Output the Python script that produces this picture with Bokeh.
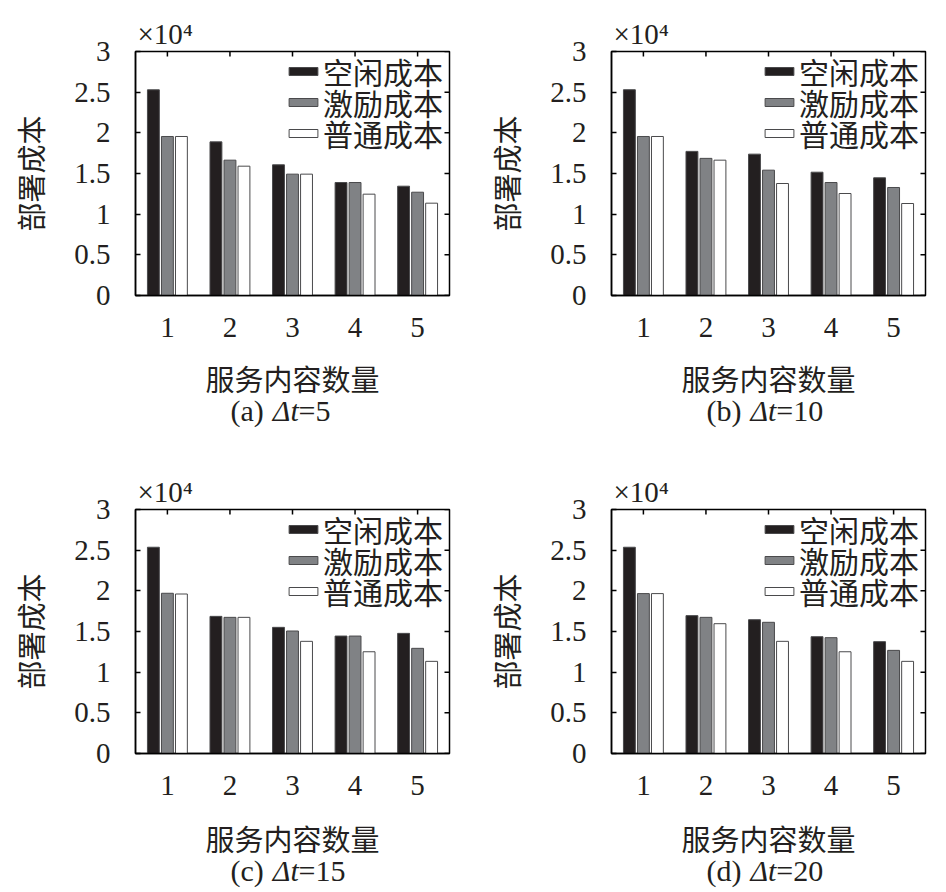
import math
from bokeh.plotting import figure
from bokeh.models import (ColumnDataSource, Range1d, FixedTicker,
                          Legend, LegendItem)
from bokeh.layouts import gridplot
from bokeh.transform import dodge
from bokeh.core.properties import value
from bokeh.embed import file_html
from bokeh.resources import INLINE

# ---------------- data ----------------
content_counts = [1, 2, 3, 4, 5]
series_names = ["空闲成本", "激励成本", "普通成本"]
panel_tags = ["(a)", "(b)", "(c)", "(d)"]
delta_t_values = ["5", "10", "15", "20"]
y_ticks = [0, 5000, 10000, 15000, 20000, 25000, 30000]
y_tick_labels = ["0", "0.5", "1", "1.5", "2", "2.5", "3"]
x_label_text = "服务内容数量"
y_label_text = "部署成本"
scale_text = "×10⁴"

idle_cost_5 = [25290, 18890, 16070, 13890, 13440]
incentive_cost_5 = [19550, 16640, 14920, 13890, 12700]
normal_cost_5 = [19550, 15900, 14920, 12460, 11350]

idle_cost_10 = [25300, 17720, 17380, 15160, 14470]
incentive_cost_10 = [19550, 16860, 15410, 13890, 13280]
normal_cost_10 = [19550, 16640, 13770, 12540, 11310]

idle_cost_15 = [25360, 16860, 15510, 14440, 14770]
incentive_cost_15 = [19700, 16740, 15060, 14440, 12930]
normal_cost_15 = [19610, 16740, 13790, 12510, 11330]

idle_cost_20 = [25360, 16950, 16450, 14360, 13750]
incentive_cost_20 = [19660, 16740, 16130, 14240, 12680]
normal_cost_20 = [19660, 15960, 13790, 12510, 11330]

# ---------------- style ----------------
SERIF = "Liberation Serif"
CJK = "Noto Sans CJK SC"
MIXED = "'Liberation Serif', 'Noto Sans CJK SC'"
TXT = "#231f20"
bar_fills = ["#231f20", "#808285", "#ffffff"]
bar_line = "#4a4a4c"
offsets = [-0.224, 0.0, 0.224]
BAR_W = 0.19
FRAME_W, FRAME_H = 314, 244
LEFT_B, TOP_B, BOTTOM_B = 135, 51, 58
RIGHT_A, RIGHT_B = 27, 15
LEGEND_X = 150                 # legend box left, px from frame left
LEGEND_ROW_Y = [202, 171, 140]  # legend box bottom, px from frame bottom

CW = {"(": 0.333, ")": 0.333, "a": 0.444, "b": 0.5, "c": 0.444, "d": 0.5,
      "=": 0.564, "0": 0.5, "1": 0.5, "2": 0.5, "5": 0.5}


def text_w(s, size):
    return sum(CW.get(ch, 0.5) for ch in s) * size


def make_panel(idle, incentive, normal, right_border):
    p = figure(frame_width=FRAME_W, frame_height=FRAME_H,
               x_range=Range1d(0.49, 5.51), y_range=Range1d(0, 30000),
               output_backend="svg", toolbar_location=None,
               min_border_left=LEFT_B, min_border_top=TOP_B,
               min_border_right=right_border, min_border_bottom=BOTTOM_B,
               background_fill_color="white", border_fill_color="white",
               outline_line_color="black", outline_line_width=1.5)
    p.xgrid.visible = False
    p.ygrid.visible = False

    src = ColumnDataSource(dict(x=content_counts, idle=idle,
                                incentive=incentive, normal=normal))
    renderers = []
    for col, off, fill in zip(["idle", "incentive", "normal"], offsets, bar_fills):
        r = p.vbar(x=dodge("x", off, range=p.x_range), top=col, bottom=0,
                   width=BAR_W, source=src, fill_color=fill,
                   line_color=bar_line, line_width=1)
        renderers.append(r)

    # mirrored inside ticks on right and top edges (clipped half-dashes)
    p.scatter(x=[p.x_range.end] * len(y_ticks), y=y_ticks, marker="dash",
              size=10, line_color="black", line_width=1.5)
    p.scatter(x=content_counts, y=[p.y_range.end] * len(content_counts),
              marker="dash", angle=math.pi / 2, size=10,
              line_color="black", line_width=1.5)

    # left y axis
    ya = p.yaxis[0]
    ya.ticker = FixedTicker(ticks=y_ticks)
    ya.major_label_overrides = dict(zip(y_ticks, y_tick_labels))
    ya.major_tick_in = 5
    ya.major_tick_out = 0
    ya.minor_tick_line_color = None
    ya.axis_line_width = 1.5
    ya.major_tick_line_width = 1.5
    ya.major_label_standoff = 25
    ya.major_label_text_font = SERIF
    ya.major_label_text_font_size = "29px"
    ya.major_label_text_color = TXT
    ya.axis_label = y_label_text
    ya.axis_label_text_font = CJK
    ya.axis_label_text_font_style = "normal"
    ya.axis_label_text_font_size = "29px"
    ya.axis_label_text_color = TXT
    ya.axis_label_standoff = 20

    # bottom x axis (its label is drawn in the caption strip below)
    xa = p.xaxis[0]
    xa.ticker = FixedTicker(ticks=content_counts)
    xa.major_tick_in = 0
    xa.major_tick_out = 0
    xa.minor_tick_line_color = None
    xa.axis_line_width = 1.5
    xa.major_label_standoff = 22
    xa.major_label_text_font = SERIF
    xa.major_label_text_font_size = "29px"
    xa.major_label_text_color = TXT

    # scale factor as title
    p.title.text = scale_text
    p.title.align = "left"
    p.title.offset = 2
    p.title.standoff = 3
    p.title.text_font = SERIF
    p.title.text_font_style = "normal"
    p.title.text_font_size = "29px"
    p.title.text_color = TXT

    # legend: one entry per row, stacked at fixed row positions
    for name, r, ry in zip(series_names, renderers, LEGEND_ROW_Y):
        lg = Legend(items=[LegendItem(label=name, renderers=[r])],
                    location=(LEGEND_X, ry), margin=0, padding=0, spacing=0,
                    glyph_width=36, glyph_height=10, label_standoff=2,
                    label_height=20,
                    label_text_font=MIXED, label_text_font_size="30px",
                    label_text_color=TXT,
                    border_line_alpha=0, background_fill_alpha=0)
        p.add_layout(lg)
    return p


def make_caption(tag, dt, right_border, height, xlabel_from_top, cap_from_top):
    c = figure(frame_width=FRAME_W, frame_height=height,
               x_range=Range1d(0, FRAME_W), y_range=Range1d(0, height),
               x_axis_type=None, y_axis_type=None,
               min_border_left=LEFT_B, min_border_right=right_border,
               min_border_top=0, min_border_bottom=0,
               output_backend="svg", toolbar_location=None,
               outline_line_color=None, background_fill_color="white",
               border_fill_color="white")
    cx = FRAME_W / 2
    # x-axis label
    c.text(x=[cx], y=[height - xlabel_from_top], text=[x_label_text],
           text_align="center", text_baseline="middle",
           text_font=value(CJK), text_font_size=value("29px"),
           text_color=TXT)
    # caption "(x) Δt=N" with italic Δt
    fs = 30
    w_tag = text_w(tag, fs)
    space = 0.3 * fs
    w_delta = 0.86 * fs
    cap_left = 95
    anchor = cap_left + w_tag + space
    cy = height - cap_from_top
    style = dict(text_baseline="middle", text_font=value(SERIF),
                 text_font_size=value(f"{fs}px"), text_color=TXT)
    c.text(x=[cap_left], y=[cy], text=[tag], text_align="left", **style)
    c.text(x=[anchor], y=[cy], text=["Δt"], text_align="left",
           text_font_style="italic", **style)
    c.text(x=[anchor + w_delta], y=[cy], text=["=" + dt], text_align="left",
           **style)
    return c


pa = make_panel(idle_cost_5, incentive_cost_5, normal_cost_5, RIGHT_A)
pb = make_panel(idle_cost_10, incentive_cost_10, normal_cost_10, RIGHT_B)
pc = make_panel(idle_cost_15, incentive_cost_15, normal_cost_15, RIGHT_A)
pd = make_panel(idle_cost_20, incentive_cost_20, normal_cost_20, RIGHT_B)

# row 1 strip spans 353..458, row 2 strip spans 811..889 (page px)
ca = make_caption(panel_tags[0], delta_t_values[0], RIGHT_A, 105, 24, 57)
cb = make_caption(panel_tags[1], delta_t_values[1], RIGHT_B, 105, 24, 57)
cc = make_caption(panel_tags[2], delta_t_values[2], RIGHT_A, 78, 26, 59)
cd = make_caption(panel_tags[3], delta_t_values[3], RIGHT_B, 78, 26, 59)

grid = gridplot([[pa, pb], [ca, cb], [pc, pd], [cc, cd]], toolbar_location=None)

open("out.html", "w").write(file_html(grid, INLINE))
